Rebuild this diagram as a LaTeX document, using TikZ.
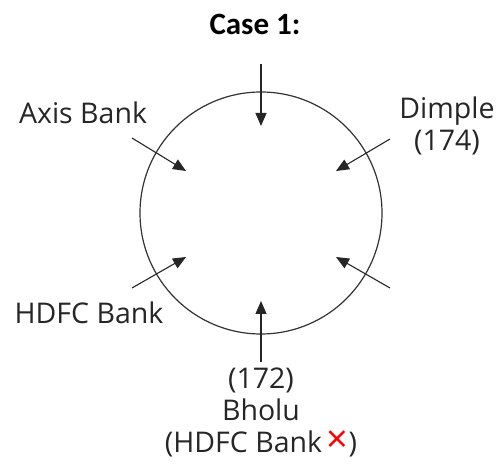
\documentclass[tikz,border=0pt]{standalone}
\usepackage{fontspec}
\setmainfont{Open Sans}
\newfontfamily\titlefont{Carlito}
\usetikzlibrary{arrows.meta}
\begin{document}
\begin{tikzpicture}[x=1pt,y=-1pt,
  lbl/.style={inner sep=0pt,align=center,font=\fontsize{28.5}{32}\selectfont,text=black!85},
  arr/.style={line width=1.1pt,draw=black!85,-{Triangle[length=13pt,width=11pt]}},
  ring/.style={line width=1.2pt,draw=black!80}]
\useasboundingbox (0,0) rectangle (499,465);
\node[inner sep=0pt,font=\titlefont\bfseries\fontsize{31}{34}\selectfont] (title) at (255,24) {Case 1:};
\node[ring,circle,minimum size=242pt,inner sep=0pt] (c) at (261,213) {};
% arrow endpoints
\coordinate (t0) at (261,64);  \coordinate (t1) at (261,126);
\coordinate (a0) at (132,138); \coordinate (a1) at (186,171);
\coordinate (d0) at (390,139); \coordinate (d1) at (336,171);
\coordinate (h0) at (132,288); \coordinate (h1) at (186,257);
\coordinate (r0) at (390,288); \coordinate (r1) at (336,257);
\coordinate (b0) at (261,362); \coordinate (b1) at (261,301);
\draw[arr] (t0) -- (t1);
\draw[arr] (a0) -- (a1);
\draw[arr] (d0) -- (d1);
\draw[arr] (h0) -- (h1);
\draw[arr] (r0) -- (r1);
\draw[arr] (b0) -- (b1);
% labels
\node[lbl] (axis) at (83,113) {Axis Bank};
\node[lbl] (dimple) at (447,126) {Dimple\\(174)};
\node[lbl] (hdfc) at (89,313) {HDFC Bank};
\node[lbl] (bholu) at (261,412) {(172)\\Bholu\\(HDFC Bank\,{\color{red}\fontsize{38}{32}\selectfont ×})};
\end{tikzpicture}
\end{document}
